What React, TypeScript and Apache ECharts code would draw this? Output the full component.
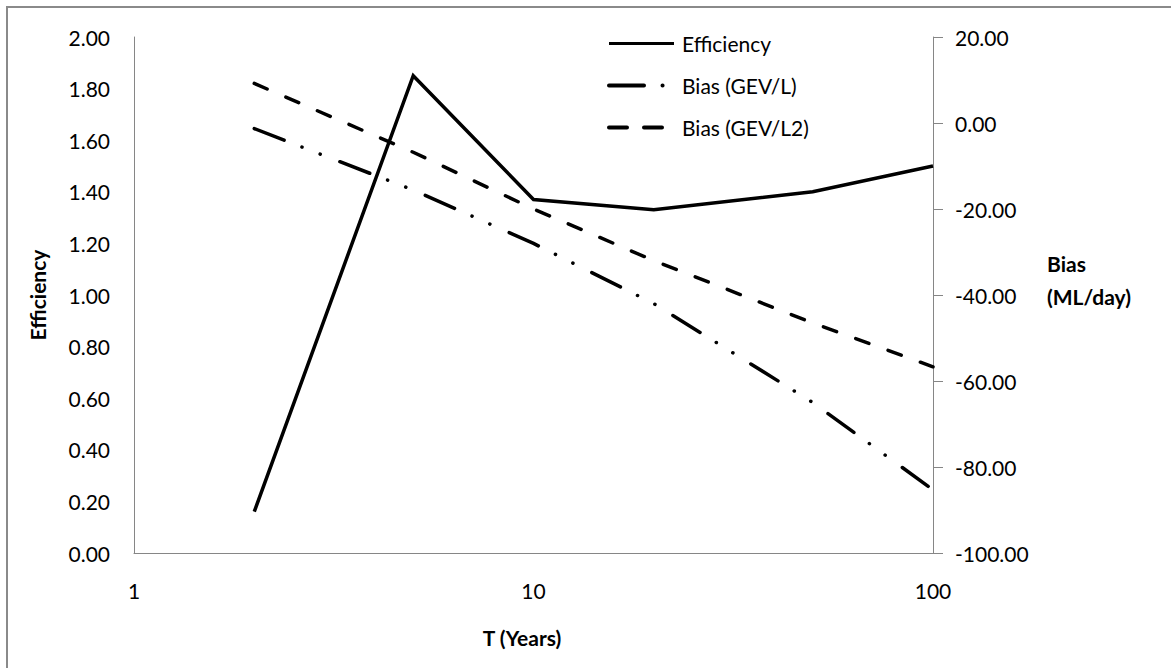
import React, { useEffect, useRef } from "react";
import * as echarts from "echarts";

// ---- data ----
const periods = [2, 5, 10, 20, 50, 100];
const efficiency = [0.16, 1.85, 1.37, 1.33, 1.4, 1.5];
const biasGEVL = [-1.3, -15.6, -28.0, -42.0, -65.0, -85.3];
const biasGEVL2 = [9.2, -6.8, -20.0, -32.0, -46.5, -56.7];
const seriesNames = ["Efficiency", "Bias (GEV/L)", "Bias (GEV/L2)"];
const xAxisTitle = "T (Years)";
const leftAxisTitle = "Efficiency";
const rightAxisTitle = "Bias\n(ML/day)";

const FONT = "Lato, 'Liberation Sans', sans-serif";
const AXIS_GREY = "#868686";

function pairs(xs: number[], ys: number[]) {
  return xs.map((x, i) => [x, ys[i]]);
}

export default function App() {
  const ref = useRef<HTMLDivElement>(null);

  useEffect(() => {
    if (!ref.current) return;
    const chart = echarts.init(ref.current, undefined, { renderer: "svg" });

    const option: any = {
      animation: false,
      backgroundColor: "#ffffff",
      textStyle: { fontFamily: FONT },
      grid: { left: 134, top: 37, right: 238, bottom: 115, containLabel: false },
      legend: {
        orient: "vertical",
        left: 602,
        top: 28,
        itemWidth: 65,
        itemHeight: 22,
        itemGap: 21,
        itemStyle: { opacity: 0 },
        textStyle: { fontFamily: FONT, fontSize: 21, color: "#000", padding: [0, 0, 0, 3] },
        data: [
          {
            name: seriesNames[0],
            lineStyle: { color: "#000", width: 3, type: "solid", cap: "butt" },
          },
          {
            name: seriesNames[1],
            lineStyle: { color: "#000", width: 4, type: [35, 18.5, 0.1, 100], cap: "round" },
          },
          {
            name: seriesNames[2],
            lineStyle: { color: "#000", width: 4, type: [18, 17], cap: "round" },
          },
        ],
      },
      xAxis: {
        type: "log",
        logBase: 10,
        min: 1,
        max: 100,
        axisLine: { show: true, lineStyle: { color: AXIS_GREY, width: 1 } },
        axisTick: { show: false },
        minorTick: { show: false },
        splitLine: { show: false },
        axisLabel: { fontFamily: FONT, fontSize: 21, color: "#000", margin: 27 },
      },
      yAxis: [
        {
          type: "value",
          position: "left",
          min: 0,
          max: 2,
          interval: 0.2,
          name: leftAxisTitle,
          nameLocation: "middle",
          nameGap: 86,
          nameTextStyle: { fontFamily: FONT, fontSize: 21, fontWeight: "bold", color: "#000" },
          axisLine: { show: true, lineStyle: { color: AXIS_GREY, width: 1 } },
          axisTick: { show: false },
          splitLine: { show: false },
          axisLabel: {
            fontFamily: FONT,
            fontSize: 21,
            color: "#000",
            margin: 24,
            formatter: (v: number) => v.toFixed(2),
          },
        },
        {
          type: "value",
          position: "right",
          min: -100,
          max: 20,
          interval: 20,
          axisLine: { show: true, lineStyle: { color: AXIS_GREY, width: 1 } },
          axisTick: { show: true, inside: false, length: 10, lineStyle: { color: AXIS_GREY } },
          splitLine: { show: false },
          axisLabel: {
            fontFamily: FONT,
            fontSize: 21,
            color: "#000",
            margin: 22,
            formatter: (v: number) => v.toFixed(2),
          },
        },
      ],
      series: [
        {
          name: seriesNames[0],
          type: "line",
          yAxisIndex: 0,
          data: pairs(periods, efficiency),
          symbol: "none",
          lineStyle: { color: "#000", width: 3.5, type: "solid", join: "miter" },
          itemStyle: { color: "#000" },
        },
        {
          name: seriesNames[1],
          type: "line",
          yAxisIndex: 1,
          data: pairs(periods, biasGEVL),
          symbol: "none",
          lineStyle: {
            color: "#000",
            width: 3.5,
            type: [32, 19.1, 0.1, 19.4, 0.1, 21.1],
            cap: "round",
          },
          itemStyle: { color: "#000" },
        },
        {
          name: seriesNames[2],
          type: "line",
          yAxisIndex: 1,
          data: pairs(periods, biasGEVL2),
          symbol: "none",
          lineStyle: { color: "#000", width: 3.5, type: [14, 20.4], cap: "round" },
          itemStyle: { color: "#000" },
        },
      ],
      graphic: [
        {
          type: "rect",
          shape: { x: 7, y: 7, width: 1300, height: 800 },
          style: { fill: "none", stroke: "#8a8a8a", lineWidth: 2 },
          silent: true,
        },
        {
          type: "text",
          x: 522,
          y: 637,
          style: {
            text: xAxisTitle,
            font: `bold 21px ${FONT}`,
            fill: "#000",
            align: "center",
            verticalAlign: "middle",
          },
        },
        {
          type: "text",
          x: 1047,
          y: 247,
          style: {
            text: rightAxisTitle,
            font: `bold 21px ${FONT}`,
            fill: "#000",
            align: "left",
            verticalAlign: "top",
            lineHeight: 33,
          },
        },
      ],
    };

    chart.setOption(option);
    return () => chart.dispose();
  }, []);

  return (
    <div
      ref={ref}
      style={{ position: "absolute", left: 0, top: 0, width: 1171, height: 668 }}
    />
  );
}
